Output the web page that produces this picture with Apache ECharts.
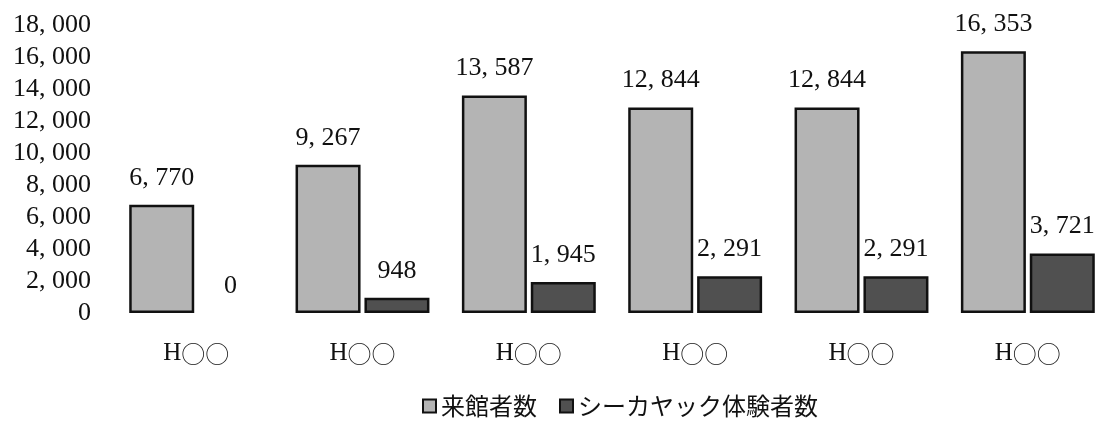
<!DOCTYPE html>
<html><head><meta charset="utf-8">
<script src="https://cdn.jsdelivr.net/npm/echarts@6/dist/echarts.min.js"></script>
<style>html,body{margin:0;padding:0;background:#fff}#c{width:1111px;height:423px}</style>
</head><body><div id="c"></div>
<script>
const categories = ['H○○','H○○','H○○','H○○','H○○','H○○'];
const visitors = [6770, 9267, 13587, 12844, 12844, 16353];
const kayak = [0, 948, 1945, 2291, 2291, 3721];
const seriesNames = ['来館者数', 'シーカヤック体験者数'];
const yTicks = {min: 0, max: 18000, interval: 2000};

const fmt = v => Number(v).toLocaleString('en-US').replace(/,/g, ', ');
const FONT = '"Liberation Serif", "Noto Sans CJK JP", serif';
const CJK = '"Noto Sans CJK JP", sans-serif';
const chart = echarts.init(document.getElementById('c'));
const barData = (vals) => vals.map(v => v === 0 ? {value: v, itemStyle: {borderWidth: 0}} : v);
chart.setOption({
  animation: false,
  backgroundColor: '#fff',
  grid: {left: 113, top: 25, bottom: 110, width: 1014},
  xAxis: {
    type: 'category', data: categories,
    axisLine: {show: false}, axisTick: {show: false},
    axisLabel: {
      margin: 28,
      formatter: s => '{h|' + s.charAt(0) + '}{c|' + s.slice(1) + '}',
      rich: {
        h: {color: '#111', fontSize: 25, fontFamily: FONT},
        c: {color: '#111', fontSize: 24, fontFamily: CJK, fontWeight: 300}
      }
    }
  },
  yAxis: {
    type: 'value', min: yTicks.min, max: yTicks.max, interval: yTicks.interval,
    splitLine: {show: false}, axisLine: {show: false}, axisTick: {show: false},
    axisLabel: {color: '#111', fontSize: 26, fontFamily: FONT, margin: 22, formatter: fmt}
  },
  legend: {
    bottom: 0, left: 417, itemWidth: 13, itemHeight: 13, itemGap: 22, icon: 'rect',
    textStyle: {fontSize: 24, color: '#111', fontFamily: CJK}
  },
  series: [
    {name: seriesNames[0], type: 'bar', data: barData(visitors), barWidth: 65, barGap: '6%',
     itemStyle: {color: '#b4b4b4', borderColor: '#111', borderWidth: 2.5},
     label: {show: true, position: 'top', distance: 14, color: '#111', fontSize: 26, fontFamily: FONT,
             formatter: p => fmt(p.value)}},
    {name: seriesNames[1], type: 'bar', data: barData(kayak), barWidth: 65,
     itemStyle: {color: '#505050', borderColor: '#111', borderWidth: 2.5},
     label: {show: true, position: 'top', distance: 14, color: '#111', fontSize: 26, fontFamily: FONT,
             formatter: p => fmt(p.value)}}
  ]
});
</script></body></html>
